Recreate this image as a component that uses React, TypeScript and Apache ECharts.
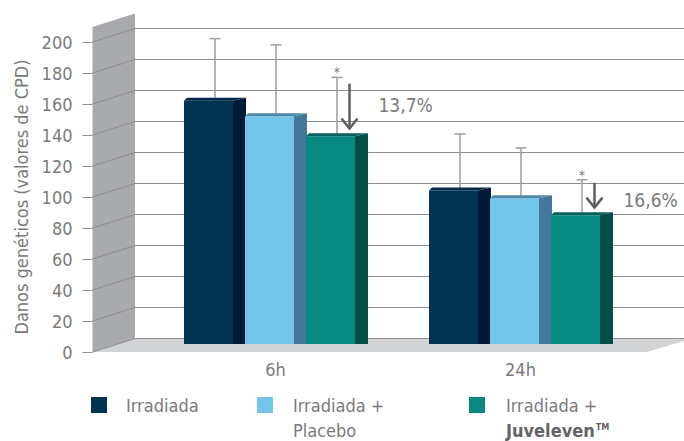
import React, { useEffect, useRef } from 'react';
import * as echarts from 'echarts';

const categories = ['6h', '24h'];
const seriesNames = ['Irradiada', 'Irradiada + Placebo', 'Irradiada + Juveleven'];
const irradiada = [157, 99];
const placebo = [147, 94];
const juveleven = [134, 83];
const irradiadaErrTop = [197, 135.5];
const placeboErrTop = [193, 126.5];
const juvelevenErrTop = [172, 106];
const yTicks = [0, 20, 40, 60, 80, 100, 120, 140, 160, 180, 200];
const reductionLabels = ['13,7%', '16,6%'];
const arrowFrom = [168, 104];
const arrowTo = [139, 88];
const labelLevel = [154, 93];

const FONT = '"Liberation Sans Narrow", "DejaVu Sans Condensed", "Arial Narrow", sans-serif';
const TEXT = '#7a7a7c';
const FS = 18;
const FW = 49;
const SW = 13;

const palettes = [
  { front: '#013452', side: '#001a3a', top: '#022a48' },
  { front: '#74c5ec', side: '#43789a', top: '#4f88aa' },
  { front: '#078a82', side: '#004f47', top: '#03625a' },
];

function barSeries(idx: number, values: number[], errTops: number[], star: boolean) {
  const pal = palettes[idx];
  return {
    type: 'custom',
    name: seriesNames[idx],
    xAxisIndex: 2,
    yAxisIndex: 2,
    itemStyle: { color: pal.front },
    data: values.map((v, i) => [i, v, errTops[i]]),
    renderItem: (_params: any, api: any) => {
      const ci = api.value(0);
      const v = api.value(1);
      const e = api.value(2);
      const base = api.coord([ci, 0]);
      const top = api.coord([ci, v]);
      const et = api.coord([ci, e]);
      const x0 = base[0] - 91.5 + idx * 61;
      const yb = base[1];
      const yt = top[1];
      const xm = x0 + (FW + SW) / 2;
      const children: any[] = [
        { type: 'line', shape: { x1: xm, y1: yt, x2: xm, y2: et[1] }, style: { stroke: '#9d9d9f', lineWidth: 1.5 } },
        { type: 'line', shape: { x1: xm - 5.5, y1: et[1], x2: xm + 5.5, y2: et[1] }, style: { stroke: '#9d9d9f', lineWidth: 1.5 } },
        { type: 'rect', shape: { x: x0, y: yt, width: FW, height: yb - yt }, style: { fill: pal.front } },
        {
          type: 'polygon',
          shape: { points: [[x0 + FW, yt], [x0 + FW + SW, yt - 3], [x0 + FW + SW, yb], [x0 + FW, yb]] },
          style: { fill: pal.side },
        },
        {
          type: 'polygon',
          shape: { points: [[x0, yt], [x0 + FW, yt], [x0 + FW + SW, yt - 3], [x0 + 3, yt - 3]] },
          style: { fill: pal.top },
        },
      ];
      if (star) {
        children.push({
          type: 'text',
          x: xm,
          y: et[1] - 5,
          style: { text: '*', align: 'center', verticalAlign: 'middle', fontSize: 14, fill: TEXT, fontFamily: FONT },
        });
      }
      return { type: 'group', children };
    },
  };
}

export default function App() {
  const ref = useRef<HTMLDivElement>(null);
  useEffect(() => {
    if (!ref.current) return;
    const chart = echarts.init(ref.current, null, { renderer: 'svg' });
    const legendCommon = {
      orient: 'horizontal',
      icon: 'rect',
      itemWidth: 16,
      itemHeight: 16,
      selectedMode: false,
      padding: 0,
    };
    const richBase = {
      a: { fontSize: FS, lineHeight: 25, color: TEXT, fontFamily: FONT },
      b: { fontSize: FS, lineHeight: 25, color: '#636466', fontWeight: 'bold', fontFamily: FONT },
      c: { fontSize: 9, lineHeight: 25, color: '#636466', fontWeight: 'bold', fontFamily: FONT, padding: [0, 0, 6, 1] },
    };
    const option: any = {
      animation: false,
      backgroundColor: '#ffffff',
      graphic: [
        {
          type: 'polygon',
          z: -10,
          shape: { points: [[92.5, 27], [135, 13.5], [135, 338.5], [92.5, 352]] },
          style: { fill: '#a8aaad' },
        },
        {
          type: 'polygon',
          z: -10,
          shape: { points: [[92.5, 352], [135, 338.5], [684, 338.5], [684, 341], [647, 352]] },
          style: { fill: '#d2d3d5' },
        },
      ],
      grid: [
        { left: 135, right: 0, top: 28.5, bottom: 102.5 },
        { left: 92.5, top: 42, bottom: 89, width: 10 },
        { left: 153, width: 490, top: 34, bottom: 97 },
      ],
      xAxis: [
        { gridIndex: 0, type: 'category', data: categories, show: false },
        { gridIndex: 1, type: 'value', min: 0, max: 1, show: false },
        {
          gridIndex: 2,
          type: 'category',
          data: categories,
          axisLine: { show: false },
          axisTick: { show: false },
          axisLabel: { margin: 16, fontSize: FS, color: TEXT, fontFamily: FONT },
        },
      ],
      yAxis: [
        {
          gridIndex: 0,
          type: 'value',
          min: 0,
          max: 200,
          interval: 20,
          axisLabel: { show: false },
          axisLine: { show: false },
          axisTick: { show: false },
          splitLine: { show: true, lineStyle: { color: '#8e8f91', width: 1.2 } },
        },
        {
          gridIndex: 1,
          type: 'value',
          min: 0,
          max: 200,
          interval: 20,
          name: 'Danos genéticos (valores de CPD)',
          nameLocation: 'middle',
          nameGap: 62,
          nameTextStyle: { fontSize: FS, color: TEXT, fontFamily: FONT },
          axisLine: { show: false },
          axisTick: { show: true, length: 10, lineStyle: { color: '#8e8f91', width: 1 } },
          axisLabel: { margin: 20, fontSize: FS, color: TEXT, fontFamily: FONT },
          splitLine: { show: false },
        },
        { gridIndex: 2, type: 'value', min: 0, max: 200, show: false },
      ],
      legend: [
        {
          ...legendCommon,
          left: 91,
          top: 392.5,
          data: [seriesNames[0]],
          textStyle: { fontSize: FS, lineHeight: 25, color: TEXT, fontFamily: FONT, padding: [0, 0, 0, 14] },
        },
        {
          ...legendCommon,
          left: 257,
          top: 367.5,
          data: [seriesNames[1]],
          formatter: () => '{a|Irradiada +}\n{a|Placebo}',
          textStyle: {
            fontSize: FS,
            lineHeight: 25,
            color: TEXT,
            fontFamily: FONT,
            padding: [25, 0, 0, 15],
            rich: richBase,
          },
        },
        {
          ...legendCommon,
          left: 469,
          top: 367.5,
          data: [seriesNames[2]],
          formatter: () => '{a|Irradiada +}\n{b|Juveleven}{c|TM}',
          textStyle: {
            fontSize: FS,
            lineHeight: 25,
            color: TEXT,
            fontFamily: FONT,
            padding: [25, 0, 0, 16],
            rich: richBase,
          },
        },
      ],
      series: [
        {
          type: 'custom',
          name: 'tickConnectors',
          xAxisIndex: 1,
          yAxisIndex: 1,
          silent: true,
          data: yTicks.map((v) => [0, v]),
          renderItem: (_p: any, api: any) => {
            const p = api.coord([0, api.value(1)]);
            return {
              type: 'line',
              shape: { x1: p[0], y1: p[1], x2: p[0] + 42.5, y2: p[1] - 13.5 },
              style: { stroke: '#8e8f91', lineWidth: 1.2 },
            };
          },
        },
        barSeries(0, irradiada, irradiadaErrTop, false),
        barSeries(1, placebo, placeboErrTop, false),
        barSeries(2, juveleven, juvelevenErrTop, true),
        {
          type: 'custom',
          name: 'reduction',
          xAxisIndex: 2,
          yAxisIndex: 2,
          silent: true,
          data: categories.map((_, i) => [i, arrowFrom[i], arrowTo[i], labelLevel[i]]),
          renderItem: (params: any, api: any) => {
            const ci = api.value(0);
            const a = api.coord([ci, api.value(1)]);
            const b = api.coord([ci, api.value(2)]);
            const l = api.coord([ci, api.value(3)]);
            const x = a[0] + 74;
            return {
              type: 'group',
              children: [
                { type: 'line', shape: { x1: x, y1: a[1], x2: x, y2: b[1] }, style: { stroke: '#5d5e60', lineWidth: 2.5 } },
                {
                  type: 'polyline',
                  shape: { points: [[x - 8, b[1] - 10], [x, b[1]], [x + 8, b[1] - 10]] },
                  style: { stroke: '#5d5e60', lineWidth: 2.5, fill: 'none' },
                },
                {
                  type: 'text',
                  x: a[0] + 103,
                  y: l[1],
                  style: {
                    text: reductionLabels[params.dataIndex],
                    align: 'left',
                    verticalAlign: 'middle',
                    fontSize: 19,
                    fill: TEXT,
                    fontFamily: FONT,
                  },
                },
              ],
            };
          },
        },
      ],
    };
    chart.setOption(option);
    return () => chart.dispose();
  }, []);
  return <div ref={ref} style={{ position: 'fixed', left: 0, top: 0, width: 684, height: 441 }} />;
}
